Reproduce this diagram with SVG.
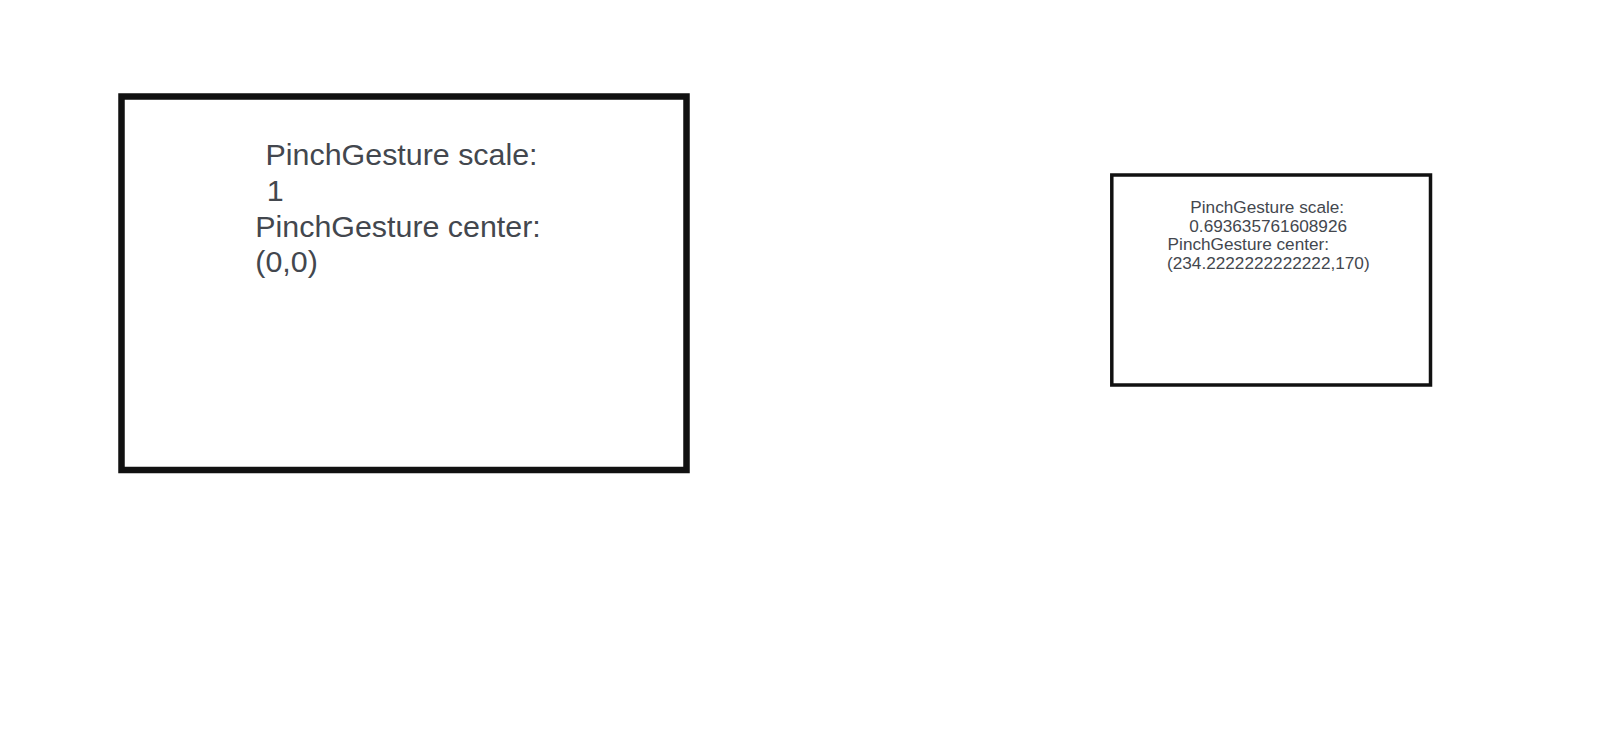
<svg xmlns="http://www.w3.org/2000/svg" width="1608" height="731" viewBox="0 0 1608 731">
<style>
.box{fill:#ffffff;stroke:#111111}
.t{font-family:"Liberation Sans",Arial,sans-serif;fill:#43474e}
.big{font-size:30.4px}
.small{font-size:17.2px}
</style>
<rect width="1608" height="731" fill="#ffffff"/>
<g id="node-large">
<rect class="box" x="121.5" y="96.5" width="565" height="373.5" stroke-width="6.5"/>
<text class="t big" x="265.6" y="165">PinchGesture scale:</text>
<text class="t big" x="266.7" y="200.7">1</text>
<text class="t big" x="255.3" y="236.7">PinchGesture center:</text>
<text class="t big" x="255.3" y="272">(0,0)</text>
</g>
<g id="node-small">
<rect class="box" x="1111.8" y="175" width="318.7" height="210" stroke-width="3.5"/>
<text class="t small" x="1190.3" y="213">PinchGesture scale:</text>
<text class="t small" x="1189.3" y="231.5">0.693635761608926</text>
<text class="t small" x="1167.6" y="250">PinchGesture center:</text>
<text class="t small" x="1167" y="269">(234.2222222222222,170)</text>
</g>
<g id="connectors"></g>
</svg>
